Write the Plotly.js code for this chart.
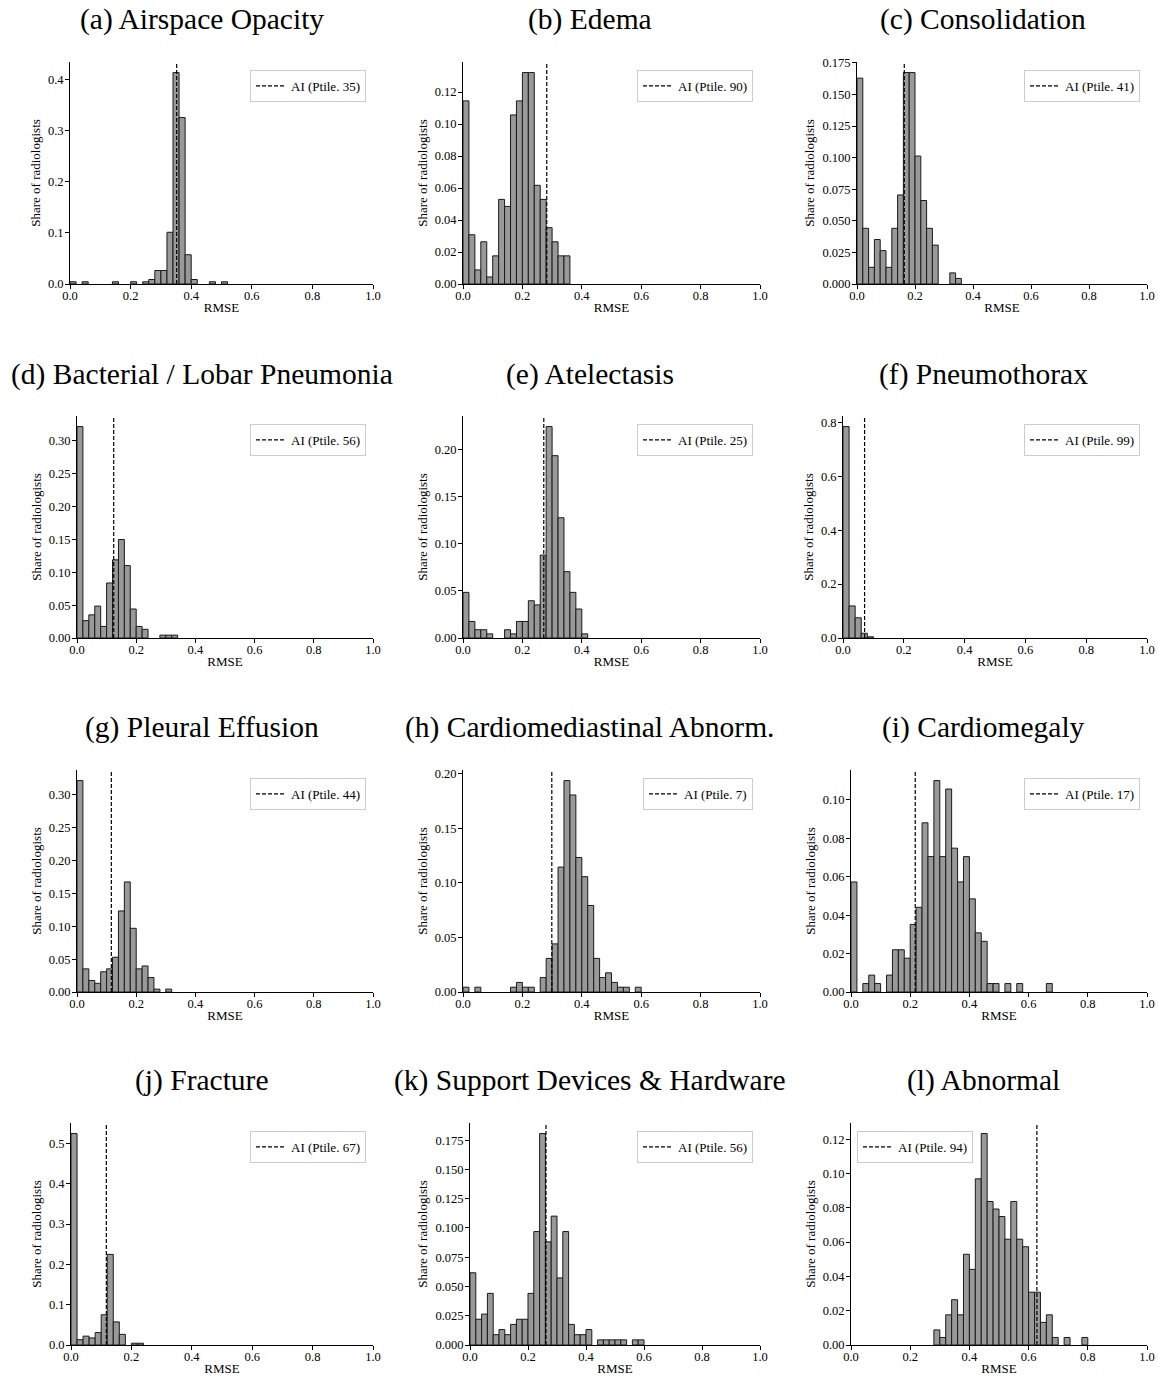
<!DOCTYPE html>
<html><head><meta charset="utf-8">
<script src="https://cdn.plot.ly/plotly-3.0.1.min.js"></script>
<style>html,body{margin:0;padding:0;background:#fff}#chart{width:1158px;height:1379px}</style>
</head><body><div id="chart"></div>
<script>
// ---- data: histogram bins (left edges, width 0.02) and share of radiologists ----
const panelTitles = ["(a) Airspace Opacity","(b) Edema","(c) Consolidation",
  "(d) Bacterial / Lobar Pneumonia","(e) Atelectasis","(f) Pneumothorax",
  "(g) Pleural Effusion","(h) Cardiomediastinal Abnorm.","(i) Cardiomegaly",
  "(j) Fracture","(k) Support Devices & Hardware","(l) Abnormal"];
const aiRmse  = [0.352,0.282,0.163,0.124,0.272,0.071,0.116,0.299,0.217,0.117,0.262,0.628];
const aiPtile = [35,90,41,56,25,99,44,7,17,67,56,94];

const airspaceBins  = [0.00,0.04,0.14,0.20,0.24,0.26,0.28,0.30,0.32,0.34,0.36,0.38,0.40,0.46,0.50];
const airspaceShare = [0.0044,0.0044,0.0044,0.0044,0.0044,0.0088,0.0264,0.0264,0.1013,0.4141,0.3260,0.0573,0.0088,0.0044,0.0044];

const edemaBins  = [0.00,0.02,0.04,0.06,0.08,0.10,0.12,0.14,0.16,0.18,0.20,0.22,0.24,0.26,0.28,0.30,0.32,0.34];
const edemaShare = [0.1145,0.0308,0.0088,0.0264,0.0044,0.0176,0.0529,0.0485,0.1057,0.1145,0.1322,0.1322,0.0617,0.0529,0.0352,0.0264,0.0176,0.0176];

const consolidationBins  = [0.00,0.02,0.04,0.06,0.08,0.10,0.12,0.14,0.16,0.18,0.20,0.22,0.24,0.26,0.32,0.34];
const consolidationShare = [0.1630,0.0441,0.0132,0.0352,0.0264,0.0132,0.0441,0.0705,0.1674,0.1674,0.1013,0.0661,0.0441,0.0308,0.0088,0.0044];

const pneumoniaBins  = [0.00,0.02,0.04,0.06,0.08,0.10,0.12,0.14,0.16,0.18,0.20,0.22,0.28,0.30,0.32];
const pneumoniaShare = [0.3216,0.0264,0.0352,0.0485,0.0176,0.0837,0.1189,0.1498,0.1101,0.0441,0.0176,0.0132,0.0044,0.0044,0.0044];

const atelectasisBins  = [0.00,0.02,0.04,0.06,0.08,0.14,0.16,0.18,0.20,0.22,0.24,0.26,0.28,0.30,0.32,0.34,0.36,0.38,0.40];
const atelectasisShare = [0.0485,0.0176,0.0088,0.0088,0.0044,0.0088,0.0044,0.0176,0.0176,0.0396,0.0352,0.0881,0.2247,0.1938,0.1278,0.0705,0.0485,0.0308,0.0044];

const pneumothoraxBins  = [0.00,0.02,0.04,0.06,0.08];
const pneumothoraxShare = [0.7841,0.1189,0.0749,0.0176,0.0044];

const effusionBins  = [0.00,0.02,0.04,0.06,0.08,0.10,0.12,0.14,0.16,0.18,0.20,0.22,0.24,0.26,0.30];
const effusionShare = [0.3216,0.0352,0.0176,0.0132,0.0308,0.0352,0.0529,0.1233,0.1674,0.0969,0.0352,0.0396,0.0220,0.0044,0.0044];

const cardiomedBins  = [0.00,0.04,0.16,0.18,0.20,0.22,0.26,0.28,0.30,0.32,0.34,0.36,0.38,0.40,0.42,0.44,0.46,0.48,0.50,0.52,0.54,0.58];
const cardiomedShare = [0.0044,0.0044,0.0044,0.0088,0.0044,0.0044,0.0132,0.0308,0.0441,0.1145,0.1938,0.1806,0.1233,0.1057,0.0793,0.0308,0.0132,0.0176,0.0088,0.0044,0.0044,0.0044];

const cardiomegalyBins  = [0.00,0.04,0.06,0.08,0.12,0.14,0.16,0.18,0.20,0.22,0.24,0.26,0.28,0.30,0.32,0.34,0.36,0.38,0.40,0.42,0.44,0.46,0.48,0.52,0.56,0.66];
const cardiomegalyShare = [0.0573,0.0044,0.0088,0.0044,0.0088,0.0220,0.0220,0.0176,0.0352,0.0441,0.0881,0.0705,0.1101,0.0705,0.1057,0.0749,0.0573,0.0705,0.0485,0.0308,0.0264,0.0044,0.0044,0.0044,0.0044,0.0044];

const fractureBins  = [0.00,0.02,0.04,0.06,0.08,0.10,0.12,0.14,0.16,0.20,0.22];
const fractureShare = [0.5242,0.0132,0.0220,0.0176,0.0308,0.0749,0.2247,0.0573,0.0264,0.0044,0.0044];

const devicesBins  = [0.00,0.02,0.04,0.06,0.08,0.10,0.12,0.14,0.16,0.18,0.20,0.22,0.24,0.26,0.28,0.30,0.32,0.34,0.36,0.38,0.40,0.44,0.46,0.48,0.50,0.52,0.56,0.58];
const devicesShare = [0.0617,0.0220,0.0264,0.0441,0.0088,0.0132,0.0088,0.0176,0.0220,0.0220,0.0441,0.0969,0.1806,0.0881,0.1101,0.0573,0.0969,0.0176,0.0088,0.0088,0.0132,0.0044,0.0044,0.0044,0.0044,0.0044,0.0044,0.0044];

const abnormalBins  = [0.28,0.30,0.32,0.34,0.36,0.38,0.40,0.42,0.44,0.46,0.48,0.50,0.52,0.54,0.56,0.58,0.60,0.62,0.64,0.66,0.68,0.72,0.78];
const abnormalShare = [0.0088,0.0044,0.0176,0.0264,0.0176,0.0529,0.0441,0.0969,0.1233,0.0837,0.0793,0.0749,0.0617,0.0837,0.0617,0.0573,0.0308,0.0308,0.0132,0.0176,0.0044,0.0044,0.0044];

const xTickVals = [0,0.2,0.4,0.6,0.8,1.0];
const xTickText = ["0.0","0.2","0.4","0.6","0.8","1.0"];

// ---- presentation ----
const binsList  = [airspaceBins,edemaBins,consolidationBins,pneumoniaBins,atelectasisBins,pneumothoraxBins,
                   effusionBins,cardiomedBins,cardiomegalyBins,fractureBins,devicesBins,abnormalBins];
const shareList = [airspaceShare,edemaShare,consolidationShare,pneumoniaShare,atelectasisShare,pneumothoraxShare,
                   effusionShare,cardiomedShare,cardiomegalyShare,fractureShare,devicesShare,abnormalShare];
const yDtick = [0.1,0.02,0.025,0.05,0.05,0.2,0.05,0.05,0.02,0.1,0.025,0.02];
const yFmt   = ['.1f','.2f','.3f','.2f','.2f','.1f','.2f','.2f','.2f','.1f','.3f','.2f'];

const W = 1158, H = 1379;
const FONT = "'Liberation Serif','Times New Roman',serif";
const plotLeft  = [70,463,857, 77,463,843, 77,463,851, 71,470,851];
const colRight  = [373,760,1147];
const rowTB     = [[62,284],[416,638],[770,992],[1123,1345]];
const titleX    = [202,590,983];
const titleY    = [20,374,727,1080];

const data = [];
const layout = {
  width: W, height: H,
  margin: {l:0,r:0,t:0,b:0},
  paper_bgcolor: '#fff', plot_bgcolor: '#fff',
  font: {family: FONT, size: 13, color: '#000'},
  bargap: 0,
  annotations: [],
  showlegend: true
};

for (let i = 0; i < 12; i++) {
  const r = Math.floor(i/3), c = i%3;
  const s = i === 0 ? '' : String(i+1);
  const share = shareList[i];
  const yTop = Math.max(...share) * 1.05;
  const legName = i === 0 ? 'legend' : 'legend' + (i+1);

  data.push({
    type: 'bar', x: binsList[i], y: share, width: 0.02, offset: 0,
    marker: {color: '#999999', line: {color: '#1a1a1a', width: 1}},
    xaxis: 'x'+s, yaxis: 'y'+s, showlegend: false, hoverinfo: 'skip'
  });
  data.push({
    type: 'scatter', mode: 'lines', x: [aiRmse[i], aiRmse[i]], y: [0, yTop],
    line: {color: '#000', width: 1.2, dash: '4px,2px'},
    name: 'AI (Ptile. ' + aiPtile[i] + ')',
    xaxis: 'x'+s, yaxis: 'y'+s, legend: legName, showlegend: true, hoverinfo: 'skip'
  });

  const left = plotLeft[i], right = colRight[c];
  const top = rowTB[r][0], bottom = rowTB[r][1];
  const axCommon = {
    showline: true, linecolor: '#000', linewidth: 1,
    ticks: 'outside', ticklen: 4, tickwidth: 1, tickcolor: '#000',
    showgrid: false, zeroline: false, fixedrange: true,
    tickfont: {family: FONT, size: 12.5, color: '#000'}
  };
  layout['xaxis'+s] = Object.assign({}, axCommon, {
    domain: [left/W, right/W], anchor: 'y'+s, range: [0, 1],
    tickvals: xTickVals, ticktext: xTickText, ticklabelstandoff: -4,
    title: {text: 'RMSE', font: {family: FONT, size: 13}, standoff: 0}
  });
  layout['yaxis'+s] = Object.assign({}, axCommon, {
    domain: [1-bottom/H, 1-top/H], anchor: 'x'+s, range: [0, yTop],
    dtick: yDtick[i], tick0: 0, tickformat: yFmt[i], ticklabelstandoff: -1,
    title: {text: 'Share of radiologists', font: {family: FONT, size: 13}, standoff: 4}
  });

  const legLeft = (i === 11);
  layout[legName] = {
    x: legLeft ? (left+6)/W : (right-7)/W,
    xanchor: legLeft ? 'left' : 'right',
    y: 1-(top+8)/H, yanchor: 'top',
    xref: 'paper', yref: 'paper',
    bgcolor: 'rgba(255,255,255,0.8)', bordercolor: '#cccccc', borderwidth: 1,
    font: {family: FONT, size: 13, color: '#000'}
  };

  layout.annotations.push({
    xref: 'paper', yref: 'paper', x: titleX[c]/W, y: 1-titleY[r]/H,
    xanchor: 'center', yanchor: 'middle', showarrow: false,
    text: panelTitles[i].replace('&','&amp;'),
    font: {family: FONT, size: 29.5, color: '#000'}
  });
}

Plotly.newPlot('chart', data, layout, {staticPlot: true, displayModeBar: false});
</script>
</body></html>
